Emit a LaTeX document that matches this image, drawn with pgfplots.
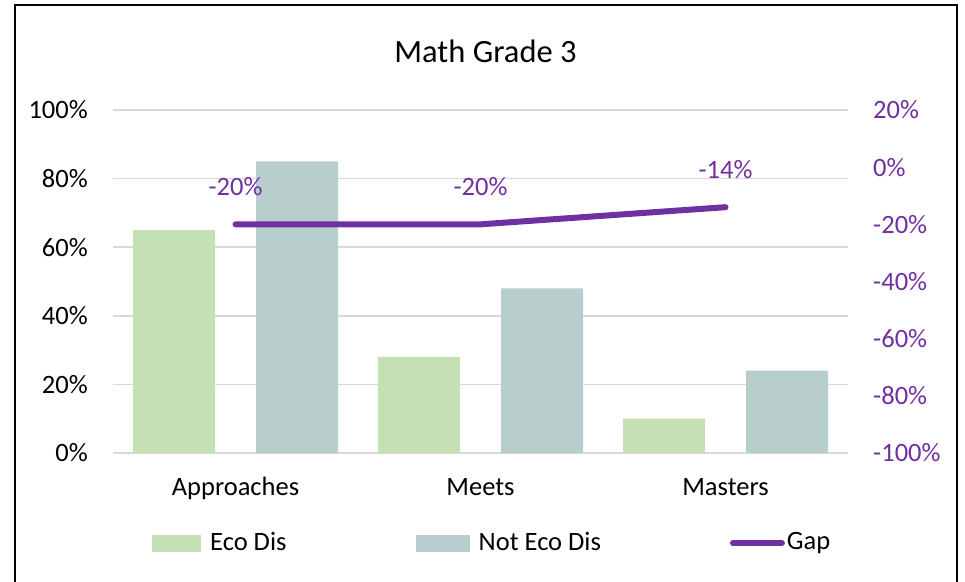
\documentclass[border=0pt]{standalone}
\usepackage{pgfplots}
\pgfplotsset{compat=1.18}
\usepackage{fontspec}
\setmainfont{Carlito}
\definecolor{ecogreen}{HTML}{C5E0B4}
\definecolor{noteco}{HTML}{B8CECC}
\definecolor{gappurple}{HTML}{7030A0}
\definecolor{gridgray}{HTML}{D9D9D9}
\newcommand{\lblfont}{\fontsize{26.5}{30}\selectfont}
\begin{document}
\begin{tikzpicture}
\lblfont
\useasboundingbox (0,0) rectangle (965pt,581pt);
\draw[line width=2.5pt,black] (15pt,-10pt) -- (15pt,576pt) -- (957pt,576pt) -- (957pt,-10pt);
\begin{axis}[
  at={(113pt,128pt)}, anchor=south west,
  scale only axis, width=735pt, height=343pt,
  xmin=-0.5, xmax=2.5, ymin=0, ymax=100,
  xtick={0,1,2}, xticklabels={Approaches,Meets,Masters},
  ytick={0,20,40,60,80,100},
  yticklabels={0\%,20\%,40\%,60\%,80\%,100\%},
  major tick length=0pt,
  axis line style={draw=none},
  ymajorgrids, grid style={gridgray, line width=1.5pt},
  tick label style={font=\lblfont, inner sep=0pt},
  yticklabel style={anchor=east, xshift=-25pt},
  xticklabel style={anchor=base, yshift=-42pt},
]
\addplot[ybar, fill=ecogreen, draw=none, bar width=82pt, bar shift=-61.5pt] coordinates {(0,65) (1,28) (2,10)};
\addplot[ybar, fill=noteco, draw=none, bar width=82pt, bar shift=61.5pt] coordinates {(0,85) (1,48) (2,24)};
\end{axis}
\begin{axis}[
  at={(113pt,128pt)}, anchor=south west,
  scale only axis, width=735pt, height=343pt,
  xmin=-0.5, xmax=2.5, ymin=-100, ymax=20,
  axis y line*=right, axis x line=none,
  axis line style={draw=none},
  ytick={-100,-80,-60,-40,-20,0,20},
  yticklabels={-100\%,-80\%,-60\%,-40\%,-20\%,0\%,20\%},
  major tick length=0pt,
  tick label style={font=\lblfont, inner sep=0pt},
  yticklabel style={anchor=west, xshift=25pt, text=gappurple},
  legend columns=3,
  legend cell align=left,
  legend style={at={(0.0531,-0.2624)}, anchor=west, draw=none, fill=none,
    inner sep=0pt, outer sep=0pt, font=\lblfont,
    /tikz/every even column/.append style={column sep=127pt}},
]
\addlegendimage{legend image code/.code={\fill[ecogreen] (0pt,-8pt) rectangle (48pt,8pt); \path[draw=none,fill=none] (0pt,0pt) -- (56pt,0pt);}}
\addlegendentry{Eco Dis}
\addlegendimage{legend image code/.code={\fill[noteco] (0pt,-8pt) rectangle (53pt,8pt); \path[draw=none,fill=none] (0pt,0pt) -- (61pt,0pt);}}
\addlegendentry{Not Eco Dis}
\addplot[gappurple, line width=6pt, line cap=round, mark=none,
  legend image code/.code={\draw[gappurple, line width=6pt, line cap=round] (3pt,0pt) -- (52pt,0pt);},
  nodes near coords, point meta=explicit symbolic,
  nodes near coords style={anchor=center, yshift=37.5pt, text=gappurple, inner sep=0pt, font=\lblfont}]
  coordinates {(0,-20) [{-20\%}] (1,-20) [{-20\%}] (2,-14) [{-14\%}]};
\addlegendentry{Gap}
\end{axis}
\node[anchor=base, font=\fontsize{32.5}{36}\selectfont] at (485.5pt,518pt) {Math Grade 3};
\end{tikzpicture}
\end{document}
